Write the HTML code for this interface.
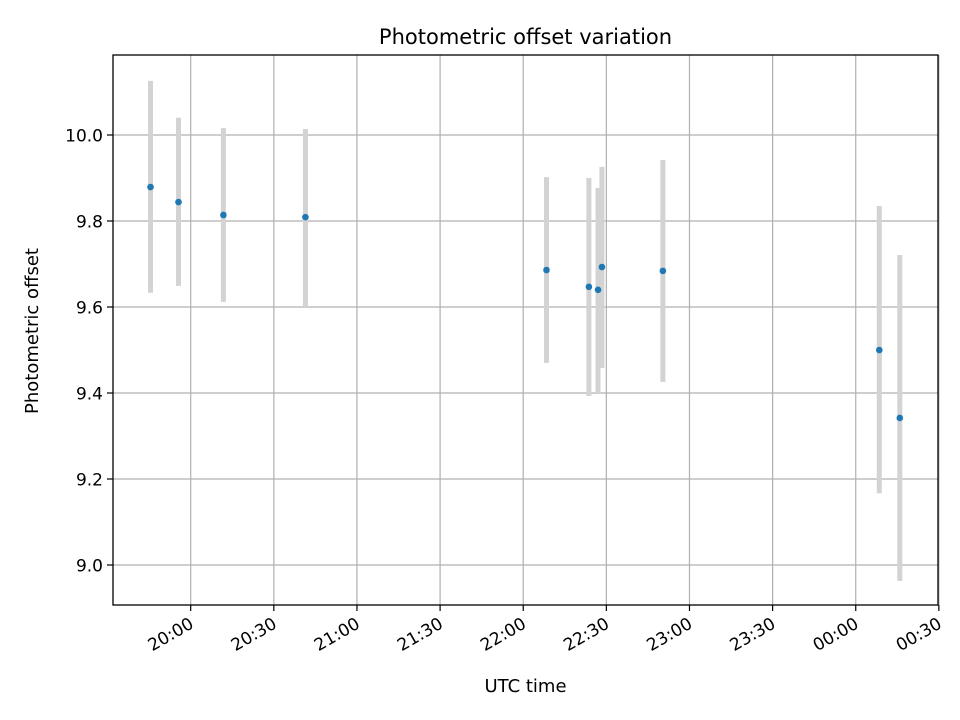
<!DOCTYPE html>
<html><head><meta charset="utf-8"><style>body{margin:0;background:#fff}svg{display:block;font-family:"DejaVu Sans","Liberation Sans",sans-serif}</style></head>
<body>
<svg id="c" width="960" height="720"></svg>
<script>
const times = [-14.5,-4.4,11.8,41.4,128.4,143.7,147,148.4,170.4,248.5,255.9]; // minutes after 20:00
const values = [9.879,9.844,9.814,9.809,9.686,9.647,9.640,9.693,9.684,9.500,9.342];
const errLow = [9.633,9.649,9.612,9.600,9.470,9.393,9.400,9.458,9.426,9.167,8.963];
const errHigh = [10.126,10.040,10.016,10.014,9.902,9.900,9.877,9.926,9.942,9.835,9.721];
const yTicks = [9.0,9.2,9.4,9.6,9.8,10.0];
const xTickLabels = ["20:00","20:30","21:00","21:30","22:00","22:30","23:00","23:30","00:00","00:30"];
const xTickMins = [0,30,60,90,120,150,180,210,240,270];

const L=113,R=938,T=55,B=605;
const X=m=>190.7+m*2.771;
const Y=v=>135+(10-v)*430;
const svg=document.getElementById('c');const NS='http://www.w3.org/2000/svg';
function el(t,a,txt){const e=document.createElementNS(NS,t);for(const k in a)e.setAttribute(k,a[k]);if(txt!==undefined)e.textContent=txt;svg.appendChild(e);return e;}
yTicks.forEach(v=>{const y=Y(v);
 let g=el('line',{x1:L,x2:R,y1:y,y2:y,stroke:'#b0b0b0','stroke-width':1.2});
 
 el('line',{x1:L-6,x2:L,y1:y,y2:y,stroke:'#000','stroke-width':1.2});
 let t=el('text',{x:L-10,y:y+6.5,'text-anchor':'end','font-size':17},v.toFixed(1));
 });
xTickMins.forEach((m,i)=>{const x=X(m);
 let g=el('line',{x1:x,x2:x,y1:T,y2:B,stroke:'#b0b0b0','stroke-width':1.2});
 
 el('line',{x1:x,x2:x,y1:B,y2:B+6,stroke:'#000','stroke-width':1.2});
 let t=el('text',{x:x+4,y:B+22,'text-anchor':'end','font-size':17,transform:`rotate(-30 ${x+4} ${B+22})`},xTickLabels[i]);
 });
times.forEach((m,i)=>{const x=X(m);
 let e=el('line',{x1:x,x2:x,y1:Y(errHigh[i]),y2:Y(errLow[i]),stroke:'#d3d3d3','stroke-width':5});
 });
times.forEach((m,i)=>{
 let p=el('circle',{cx:X(m),cy:Y(values[i]),r:3.3,fill:'#1f77b4'});
 });
let f=el('rect',{x:L,y:T,width:R-L,height:B-T,fill:'none',stroke:'#000','stroke-width':1.3});

let tt=el('text',{x:(L+R)/2,y:44,'text-anchor':'middle','font-size':21},'Photometric offset variation');

let xl=el('text',{x:(L+R)/2,y:692,'text-anchor':'middle','font-size':18},'UTC time');

let yl=el('text',{x:331,y:39,'text-anchor':'middle','font-size':18,transform:'rotate(-90 331 39) translate(0 0)'},'');
yl.remove();
let yl2=el('text',{x:0,y:0,'text-anchor':'middle','font-size':18,transform:'translate(38 331) rotate(-90)'},'Photometric offset');

</script>
</body></html>
